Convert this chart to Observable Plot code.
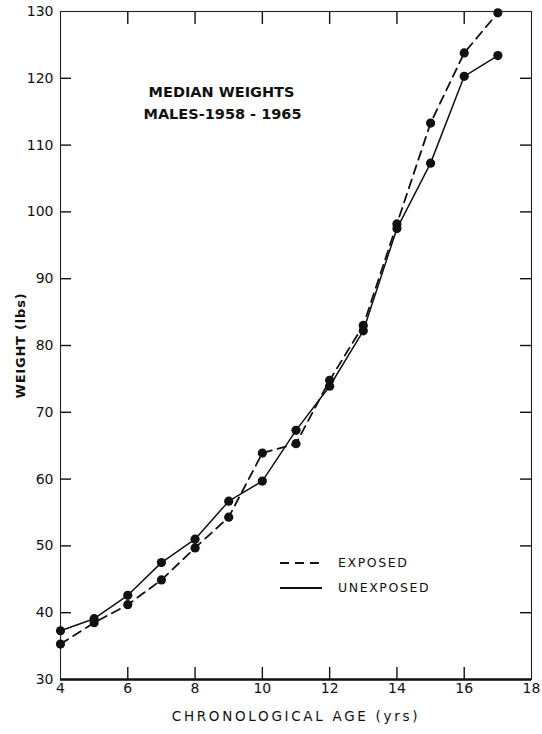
<!DOCTYPE html>
<html><head><meta charset="utf-8">
<script src="https://cdn.jsdelivr.net/npm/d3@7"></script>
<script src="https://cdn.jsdelivr.net/npm/@observablehq/plot@0.6"></script>
<style>
body{margin:0;background:#fff;}
#wrap{position:relative;width:542px;height:734px;}
#legend{position:absolute;left:280px;top:550px;font-family:"DejaVu Sans",sans-serif;font-size:12.5px;letter-spacing:1.6px;color:#111;}
#legend .row{display:flex;align-items:center;height:25px;}
#legend svg{margin-right:16px;}
</style></head><body><div id="wrap"><div id="legend"></div></div>
<script>
const ages = [4,5,6,7,8,9,10,11,12,13,14,15,16,17];
const exposed = [35.3,38.5,41.2,44.9,49.7,54.3,63.9,65.3,74.8,83.0,98.2,113.3,123.8,129.8];
const unexposed = [37.3,39.1,42.6,47.5,51.0,56.7,59.7,67.3,73.9,82.2,97.5,107.3,120.3,123.4];
const xTickLabels = [4,6,8,10,12,14,16,18];
const xInnerTicks = [6,8,10,12,14,16];
const yTickLabels = [30,40,50,60,70,80,90,100,110,120,130];
const yInnerTicks = [40,50,60,70,80,90,100,110,120];
const titleLines = ["MEDIAN WEIGHTS","MALES-1958 - 1965"];
const seriesNames = ["EXPOSED","UNEXPOSED"];
const xTitle = "CHRONOLOGICAL AGE (yrs)";
const yTitle = "WEIGHT (lbs)";

const rows = [];
ages.forEach((a,i)=>{
  rows.push({age:a, weight:exposed[i], group:seriesNames[0]});
  rows.push({age:a, weight:unexposed[i], group:seriesNames[1]});
});
const expRows = rows.filter(d=>d.group===seriesNames[0]);
const unRows = rows.filter(d=>d.group===seriesNames[1]);

const font = "DejaVu Sans, sans-serif";
const chart = Plot.plot({
  width: 542, height: 734,
  marginLeft: 60, marginRight: 11, marginTop: 11, marginBottom: 55,
  style: {fontFamily: font, fontSize: "13px", color: "#111", background: "white"},
  x: {domain: [4,18]},
  y: {domain: [30,130]},
  marks: [
    Plot.frame({stroke: "#222", strokeWidth: 1.1}),
    Plot.ruleY([30], {stroke: "#111", strokeWidth: 2.4}),
    Plot.axisY({ticks: yTickLabels, tickSize: 0, tickPadding: 7, label: null, fontSize: 14}),
    Plot.axisY({ticks: yInnerTicks, anchor: "left", tickSize: 11, insetLeft: 11, fill: "none", label: null, strokeWidth: 1.4}),
    Plot.axisY({ticks: yInnerTicks, anchor: "right", tickSize: 12, insetRight: 12, fill: "none", label: null, strokeWidth: 1.4}),
    Plot.axisX({ticks: xTickLabels, tickSize: 0, tickPadding: 4, label: null, fontSize: 14}),
    Plot.axisX({ticks: xInnerTicks, anchor: "bottom", tickSize: 12, insetBottom: 12, fill: "none", label: null, strokeWidth: 1.4}),
    Plot.axisX({ticks: xInnerTicks, anchor: "top", tickSize: 12, insetTop: 12, fill: "none", label: null, strokeWidth: 1.4}),
    Plot.line(expRows, {x: "age", y: "weight", stroke: "#111", strokeWidth: 1.8, strokeDasharray: "9,6"}),
    Plot.line(unRows, {x: "age", y: "weight", stroke: "#111", strokeWidth: 1.5}),
    Plot.dot(rows, {x: "age", y: "weight", r: 4.6, fill: "#111", stroke: null}),
    Plot.text([titleLines[0]], {frameAnchor: "top-left", textAnchor: "middle", lineAnchor: "middle", dx: 161, dy: 81, fontWeight: "bold", fontSize: 14.5}),
    Plot.text([titleLines[1]], {frameAnchor: "top-left", textAnchor: "middle", lineAnchor: "middle", dx: 162, dy: 103, fontWeight: "bold", fontSize: 14.5}),
    Plot.text([xTitle], {frameAnchor: "bottom", lineAnchor: "middle", dy: 37, fontSize: 13.5}),
    Plot.text([yTitle], {frameAnchor: "left", textAnchor: "middle", lineAnchor: "middle", dx: -40, rotate: -90, fontWeight: "bold", fontSize: 13})
  ]
});
d3.select(chart).selectAll("text").each(function(){
  const t = this.textContent;
  if (t === xTitle) d3.select(this).attr("letter-spacing", "2.7");
  if (t === yTitle) d3.select(this).attr("letter-spacing", "0.8");
});
document.getElementById("wrap").prepend(chart);

const legend = document.getElementById("legend");
seriesNames.forEach((name,i)=>{
  const row = document.createElement("div");
  row.className = "row";
  const dash = i===0 ? 'stroke-dasharray="9,6"' : '';
  row.innerHTML = `<svg width="42" height="6"><line x1="0" x2="42" y1="3" y2="3" stroke="#111" stroke-width="${i===0?1.8:2}" ${dash}/></svg><span>${name}</span>`;
  legend.appendChild(row);
});
</script>
</body></html>
